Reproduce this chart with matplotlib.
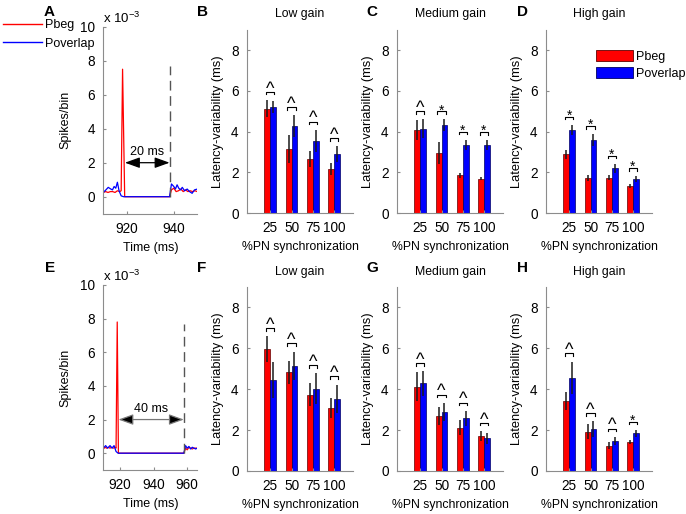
import numpy as np
import matplotlib.pyplot as plt
from matplotlib.patches import Patch
from matplotlib.lines import Line2D

plt.rcParams['font.family'] = ['Liberation Sans', 'DejaVu Sans']
plt.rcParams['mathtext.fontset'] = 'custom'
plt.rcParams['mathtext.rm'] = 'Liberation Sans'
plt.rcParams['font.size'] = 9

# ---- data ----
sync = ['25', '50', '75', '100']

# top row (B, C, D)
B_pbeg = [5.13, 3.14, 2.65, 2.17]
B_pbeg_err = [0.42, 0.70, 0.38, 0.30]
B_pover = [5.21, 4.28, 3.55, 2.90]
B_pover_err = [0.28, 0.52, 0.55, 0.38]
B_sig = ['^', '^', '^', '^']

C_pbeg = [4.09, 2.95, 1.85, 1.68]
C_pbeg_err = [0.50, 0.55, 0.12, 0.08]
C_pover = [4.15, 4.32, 3.35, 3.33]
C_pover_err = [0.45, 0.28, 0.25, 0.25]
C_sig = ['^', '*', '*', '*']

D_pbeg = [2.88, 1.74, 1.74, 1.33]
D_pbeg_err = [0.22, 0.15, 0.12, 0.10]
D_pover = [4.08, 3.59, 2.19, 1.66]
D_pover_err = [0.25, 0.28, 0.22, 0.15]
D_sig = ['*', '*', '*', '*']

# bottom row (F, G, H)
F_pbeg = [5.95, 4.82, 3.74, 3.07]
F_pbeg_err = [0.64, 0.58, 0.54, 0.50]
F_pover = [4.45, 5.15, 4.03, 3.53]
F_pover_err = [0.88, 0.69, 0.74, 0.70]
F_sig = ['^', '^', '^', '^']

G_pbeg = [4.12, 2.68, 2.12, 1.70]
G_pbeg_err = [0.70, 0.43, 0.38, 0.25]
G_pover = [4.28, 2.88, 2.58, 1.60]
G_pover_err = [0.60, 0.45, 0.37, 0.28]
G_sig = ['^', '^', '^', '^']

H_pbeg = [3.43, 1.92, 1.23, 1.40]
H_pbeg_err = [0.43, 0.37, 0.17, 0.10]
H_pover = [4.55, 2.05, 1.46, 1.84]
H_pover_err = [0.80, 0.38, 0.21, 0.16]
H_sig = ['^', '^', '^', '*']

# PSTH traces (spikes/bin, x 10^-3)
A_red_t = [910, 911, 912, 913, 914, 915, 916, 917, 917.6, 918.2, 919.1, 938.2,
           939, 940, 941, 942, 943, 944, 945, 946, 947, 948, 949, 950]
A_red_v = [0.25, 0.3, 0.25, 0.3, 0.3, 0.25, 0.35, 0.3, 0.35, 7.5, 0, 0,
           0.4, 0.5, 0.3, 0.35, 0.45, 0.3, 0.4, 0.3, 0.35, 0.3, 0.35, 0.3]
A_blue_t = [910, 911.1, 912.1, 913.2, 913.9, 914.6, 915.3, 916.0, 916.7, 917.6, 918.6,
            938.2, 939.0, 940.0, 940.7, 941.4, 942.1, 942.9, 943.6, 944.6, 945.7,
            946.7, 947.8, 948.8, 950]
A_blue_v = [0.25, 0.4, 0.55, 0.45, 0.4, 0.6, 0.5, 0.85, 0.35, 0.05, 0,
            0, 0.75, 0.6, 0.45, 0.7, 0.5, 0.4, 0.55, 0.35, 0.45,
            0.3, 0.2, 0.4, 0.45]
A_onset = 919.2
A_offset = 938.2

E_red_t = [910, 911, 912, 913, 914, 915, 916, 917, 917.6, 918.3, 919.0, 958,
           959, 960, 961, 962, 963, 964, 965, 966]
E_red_v = [0.25, 0.35, 0.3, 0.35, 0.3, 0.35, 0.3, 0.35, 0.3, 7.8, 0, 0,
           0.3, 0.2, 0.35, 0.3, 0.25, 0.3, 0.3, 0.3]
E_blue_t = [910, 911.4, 912.6, 914.0, 915.2, 916.4, 917.6, 918.8,
            958, 959, 960, 961, 962, 963, 964, 965, 966]
E_blue_v = [0.3, 0.45, 0.3, 0.45, 0.3, 0.45, 0.1, 0,
            0, 0.45, 0.3, 0.4, 0.25, 0.35, 0.3, 0.25, 0.3]
E_onset = 919.0
E_offset = 958.0

RED = '#ff0000'
BLUE = '#0000ff'
AXC = '#8c8c8c'

fig = plt.figure(figsize=(6.86, 5.14), dpi=100)
W, H = 686.0, 514.0


def add_ax(left, top, right, bottom):
    return fig.add_axes([left / W, 1 - bottom / H, (right - left) / W, (bottom - top) / H])


def style(ax):
    for s in ['top', 'right']:
        ax.spines[s].set_visible(False)
    for s in ['left', 'bottom']:
        ax.spines[s].set_color(AXC)
        ax.spines[s].set_linewidth(0.8)
    ax.tick_params(direction='in', length=2, color=AXC, labelsize=9.8, pad=6)
    ax.patch.set_alpha(0)


def psth_panel(ax, rt, rv, bt, bv, onset, offset, xlim, xticks, label, line_col):
    style(ax)
    ax.plot(rt, rv, color=RED, lw=0.9)
    ax.plot(bt, bv, color=BLUE, lw=0.9)
    ax.plot([offset, offset], [0, 7.7], color='#555555', lw=1, dashes=(7, 4))
    ax.annotate('', xy=(onset, 2), xytext=(offset, 2),
                arrowprops=dict(arrowstyle='<|-|>,head_length=0.75,head_width=0.27',
                                mutation_scale=12, shrinkA=0, shrinkB=0,
                                edgecolor=line_col, facecolor='k', lw=0.9))
    ax.text((onset + offset) / 2, 2.25, label, ha='center', va='bottom', fontsize=9)
    ax.set_xlim(*xlim)
    ax.set_ylim(-1, 10)
    ax.set_xticks(xticks)
    ax.set_yticks(range(0, 11, 2))
    ax.set_ylabel('Spikes/bin', fontsize=9, labelpad=6)
    ax.set_xlabel('Time (ms)', fontsize=9, labelpad=4)
    ax.text(0.0, 1.005, r'x 10$^{-3}$', transform=ax.transAxes, fontsize=9.5,
            ha='left', va='bottom')


def bar_panel(ax, pbeg, pbeg_err, pover, pover_err, sig, title, legend=False):
    style(ax)
    x = np.arange(1, len(sync) + 1)
    w = 0.28
    ax.bar(x - w / 2, pbeg, w, color=RED, edgecolor='#600000', lw=0.5)
    ax.bar(x + w / 2, pover, w, color=BLUE, edgecolor='#000060', lw=0.5)
    ax.errorbar(x - w / 2, pbeg, yerr=pbeg_err, fmt='none', ecolor='#1a1a1a', elinewidth=1.1, capsize=0)
    ax.errorbar(x + w / 2, pover, yerr=pover_err, fmt='none', ecolor='#1a1a1a', elinewidth=1.1, capsize=0)
    for i in range(len(sync)):
        top = max(pbeg[i] + pbeg_err[i], pover[i] + pover_err[i]) + 0.4
        xl, xr = x[i] - 0.19, x[i] + 0.19
        ax.plot([xl, xl, xr, xr], [top - 0.12, top, top, top - 0.12], color='k', lw=0.8)
        if sig[i] == '^':
            ax.text(x[i], top - 0.08, sig[i], ha='center', va='baseline', fontsize=13)
        else:
            ax.text(x[i], top - 0.15, sig[i], ha='center', va='baseline', fontsize=10)
    ax.set_xlim(-0.1, 4.9)
    ax.set_ylim(0, 9)
    ax.set_xticks(x)
    ax.set_xticklabels(sync)
    ax.set_yticks(range(0, 9, 2))
    ax.set_ylabel('Latency-variability (ms)', fontsize=9.3, labelpad=5)
    ax.set_xlabel('%PN synchronization', fontsize=8.8, labelpad=4)
    ax.set_title(title, fontsize=8.8, pad=9)
    if legend:
        handles = [Patch(facecolor=RED, edgecolor='#600000', lw=0.6, label='Pbeg'),
                   Patch(facecolor=BLUE, edgecolor='#000060', lw=0.6, label='Poverlap')]
        ax.legend(handles=handles, loc='upper left', bbox_to_anchor=(0.42, 0.918),
                  frameon=False, fontsize=9, handlelength=3.0, handleheight=1.0,
                  handletextpad=0.25, labelspacing=0.3, borderaxespad=0)


axA = add_ax(103.3, 26.7, 197.3, 213.7)
psth_panel(axA, A_red_t, A_red_v, A_blue_t, A_blue_v, A_onset, A_offset,
           (910, 950), [920, 940], '20 ms', 'k')
axE = add_ax(103.3, 285, 197.3, 470)
psth_panel(axE, E_red_t, E_red_v, E_blue_t, E_blue_v, E_onset, E_offset,
           (910, 966), [920, 940, 960], '40 ms', '#777777')

lefts = [247, 397, 546]
wid = 106
top_sets = [(B_pbeg, B_pbeg_err, B_pover, B_pover_err, B_sig, 'Low gain'),
            (C_pbeg, C_pbeg_err, C_pover, C_pover_err, C_sig, 'Medium gain'),
            (D_pbeg, D_pbeg_err, D_pover, D_pover_err, D_sig, 'High gain')]
bot_sets = [(F_pbeg, F_pbeg_err, F_pover, F_pover_err, F_sig, 'Low gain'),
            (G_pbeg, G_pbeg_err, G_pover, G_pover_err, G_sig, 'Medium gain'),
            (H_pbeg, H_pbeg_err, H_pover, H_pover_err, H_sig, 'High gain')]
for k in range(3):
    ax = add_ax(lefts[k], 30, lefts[k] + wid, 213)
    bar_panel(ax, *top_sets[k], legend=(k == 2))
    ax = add_ax(lefts[k], 287, lefts[k] + wid, 471)
    bar_panel(ax, *bot_sets[k])

# legend for the PSTH traces
fig.legend(handles=[Line2D([], [], color=RED, lw=1, label='Pbeg'),
                    Line2D([], [], color=BLUE, lw=1, label='Poverlap')],
           loc='upper left', bbox_to_anchor=(-0.003, 0.972), frameon=False,
           fontsize=9, handlelength=3.1, handletextpad=0.25, labelspacing=0.5,
           borderaxespad=0)

# panel letters
for lab, (px, py) in zip('ABCDEFGH', [(49, 12), (202, 12), (372, 12), (522, 12),
                                     (50, 268), (202, 268), (372, 268), (522, 268)]):
    fig.text(px / W, 1 - py / H, lab, fontsize=11, fontweight='bold',
             ha='center', va='center')

fig.savefig('out.png', dpi=100)
